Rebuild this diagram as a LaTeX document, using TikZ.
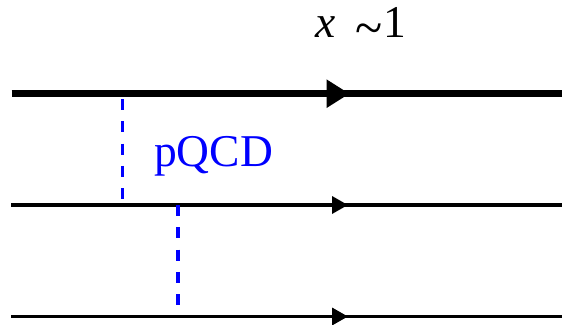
\documentclass[tikz,border=0pt]{standalone}
\usepackage{fontspec}
\setmainfont{Liberation Serif}
\usetikzlibrary{arrows.meta,decorations.markings}

\tikzset{
  quark/.style={line width=3.4pt, line cap=butt, postaction={decorate},
    decoration={markings, mark=at position 337pt with
      {\arrow{Triangle[length=16pt 0 1, width=17pt 0 1]}}}},
  hadron/.style={line width=7.3pt, line cap=butt, postaction={decorate},
    decoration={markings, mark=at position 338pt with
      {\arrow{Triangle[length=23pt 0 1, width=27pt 0 1]}}}},
  gluon/.style={blue, line width=3.7pt, dash pattern=on 11pt off 11.3pt},
  lbl/.style={inner sep=0pt, anchor=base west, font=\fontsize{45.5}{54}\selectfont}
}

\begin{document}
\begin{tikzpicture}[x=1pt, y=-1pt]
  \useasboundingbox (0,0) rectangle (562,324);

  % end points of the three horizontal lines
  \coordinate (h1) at (11.5,93.7);  \coordinate (h2) at (562,93.7);
  \coordinate (m1) at (11,205);     \coordinate (m2) at (562,205);
  \coordinate (b1) at (11,316.5);   \coordinate (b2) at (562,316.5);

  % end points of the exchanged gluons
  \coordinate (g1t) at (122.5,99);  \coordinate (g1b) at (122.5,200);
  \coordinate (g2t) at (178,205);   \coordinate (g2b) at (178,305);

  \draw[hadron] (h1) -- (h2);
  \draw[quark]  (m1) -- (m2);
  \draw[quark]  (b1) -- (b2);

  \draw[gluon] (g1t) -- (g1b);
  \draw[gluon] (g2t) -- (g2b);

  \node[lbl, text=blue] (pq) at (154,166) {pQCD};
  \node[lbl] (xl) at (315,37) {\textit{x}\hspace{0.45em}\raisebox{-0.19em}{\scalebox{1.1}[1.15]{\textasciitilde}}\hspace{0.02em}1};
\end{tikzpicture}
\end{document}
